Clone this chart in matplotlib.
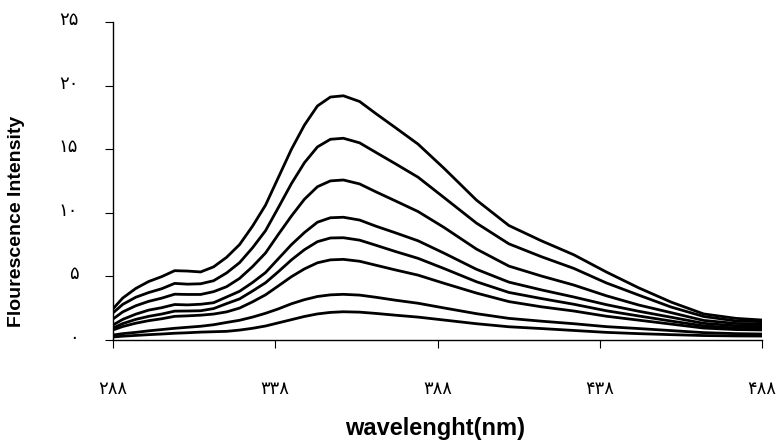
import numpy as np
import matplotlib
matplotlib.use("Agg")
import matplotlib.pyplot as plt
import matplotlib.transforms as mtransforms

# wavelength grid (nm)
wavelength = [288, 291, 295, 299, 303, 307, 311, 315, 319, 323, 327, 331, 335, 339, 343,
              347, 351, 355, 359, 364, 369, 375, 382, 390, 400, 410, 420, 430, 440, 450,
              460, 470, 480, 488]

# intensities, top curve first
curve1 = [2.45, 3.3, 4.05, 4.6, 4.98, 5.45, 5.42, 5.35, 5.75, 6.5, 7.5, 8.95, 10.6, 12.8, 15.0,
          16.9, 18.4, 19.1, 19.2, 18.75, 17.8, 16.7, 15.4, 13.5, 11.0, 9.0, 7.8, 6.7, 5.35, 4.1,
          2.98, 2.05, 1.7, 1.57]
curve2 = [2.13, 2.8, 3.36, 3.73, 4.03, 4.45, 4.39, 4.42, 4.66, 5.27, 6.08, 7.25, 8.59, 10.43, 12.3,
          13.94, 15.18, 15.78, 15.86, 15.5, 14.75, 13.86, 12.8, 11.2, 9.19, 7.56, 6.55, 5.63, 4.49, 3.53,
          2.59, 1.85, 1.5, 1.44]
curve3 = [1.65, 2.21, 2.69, 3.04, 3.29, 3.6, 3.58, 3.58, 3.8, 4.19, 4.84, 5.77, 6.84, 8.32, 9.75,
          11.07, 12.05, 12.51, 12.58, 12.27, 11.65, 10.94, 10.1, 8.85, 7.15, 5.81, 5.03, 4.32, 3.48, 2.75,
          2.15, 1.54, 1.3, 1.26]
curve4 = [1.18, 1.62, 2.03, 2.35, 2.54, 2.79, 2.76, 2.81, 2.93, 3.38, 3.83, 4.52, 5.3, 6.4, 7.5,
          8.45, 9.26, 9.61, 9.65, 9.43, 8.95, 8.43, 7.8, 6.83, 5.56, 4.55, 3.94, 3.38, 2.78, 2.26,
          1.79, 1.31, 1.12, 1.1]
curve5 = [0.94, 1.29, 1.62, 1.86, 2.04, 2.27, 2.28, 2.3, 2.47, 2.86, 3.23, 3.85, 4.5, 5.38, 6.3,
          7.1, 7.73, 8.02, 8.04, 7.85, 7.45, 6.96, 6.42, 5.62, 4.58, 3.74, 3.26, 2.81, 2.3, 1.89,
          1.49, 1.11, 0.95, 0.92]
curve6 = [0.79, 1.06, 1.32, 1.52, 1.67, 1.86, 1.9, 1.95, 2.04, 2.21, 2.51, 3.0, 3.55, 4.26, 4.98,
          5.59, 6.07, 6.3, 6.34, 6.19, 5.88, 5.51, 5.1, 4.46, 3.69, 3.02, 2.61, 2.28, 1.87, 1.56,
          1.25, 0.94, 0.82, 0.79]
curve7 = [0.39, 0.5, 0.6, 0.72, 0.82, 0.92, 1.0, 1.08, 1.2, 1.38, 1.55, 1.8, 2.1, 2.45, 2.85,
          3.17, 3.42, 3.55, 3.59, 3.53, 3.36, 3.13, 2.89, 2.52, 2.07, 1.7, 1.48, 1.28, 1.05, 0.9,
          0.74, 0.58, 0.5, 0.47]
curve8 = [0.24, 0.3, 0.36, 0.42, 0.47, 0.53, 0.57, 0.62, 0.65, 0.68, 0.78, 0.92, 1.1, 1.35, 1.6,
          1.85, 2.05, 2.17, 2.22, 2.19, 2.09, 1.95, 1.8, 1.57, 1.28, 1.04, 0.9, 0.75, 0.6, 0.5,
          0.42, 0.35, 0.32, 0.31]

curves = [curve1, curve2, curve3, curve4, curve5, curve6, curve7, curve8]

x_ticks = [288, 338, 388, 438, 488]
x_tick_labels = ["۲۸۸", "۳۳۸", "۳۸۸", "۴۳۸", "۴۸۸"]
y_ticks = [0, 5, 10, 15, 20, 25]
y_tick_labels = ["۰", "۵", "۱۰", "۱۵", "۲۰", "۲۵"]

fig = plt.figure(figsize=(7.79, 4.43), dpi=100)
ax = fig.add_axes([113 / 779, 1 - 340 / 443, 649 / 779, 318 / 443])

for c in curves:
    ax.plot(wavelength, c, color="black", linewidth=2.0,
            solid_joinstyle="round", solid_capstyle="round")

ax.set_xlim(288, 488)
ax.set_ylim(0, 25)
ax.spines["top"].set_visible(False)
ax.spines["right"].set_visible(False)
ax.spines["left"].set_linewidth(1.0)
ax.spines["bottom"].set_linewidth(1.0)

ax.set_xticks(x_ticks)
ax.set_xticklabels(x_tick_labels, family=["DejaVu Sans"], fontsize=13)
ax.set_yticks(y_ticks)
ax.set_yticklabels(y_tick_labels, family=["DejaVu Sans"], fontsize=13)
ax.tick_params(axis="x", direction="out", length=6, width=0.8, pad=23)
ax.tick_params(axis="y", direction="out", length=6, width=0.8, pad=19)

# the y labels sit a little above their ticks in the original
shift = mtransforms.ScaledTranslation(0, 4 / 100, fig.dpi_scale_trans)
for lbl in ax.get_yticklabels():
    lbl.set_transform(lbl.get_transform() + shift)

fig.text(17 / 779, 1 - 221 / 443, "Flourescence Intensity", rotation=90,
         ha="center", va="center", fontweight="bold", fontsize=14,
         family=["Liberation Sans", "DejaVu Sans"])
fig.text(435 / 779, 1 - 429 / 443, "wavelenght(nm)", ha="center", va="center",
         fontweight="bold", fontsize=17, family=["Liberation Sans", "DejaVu Sans"])

fig.savefig("out.png", dpi=100)
